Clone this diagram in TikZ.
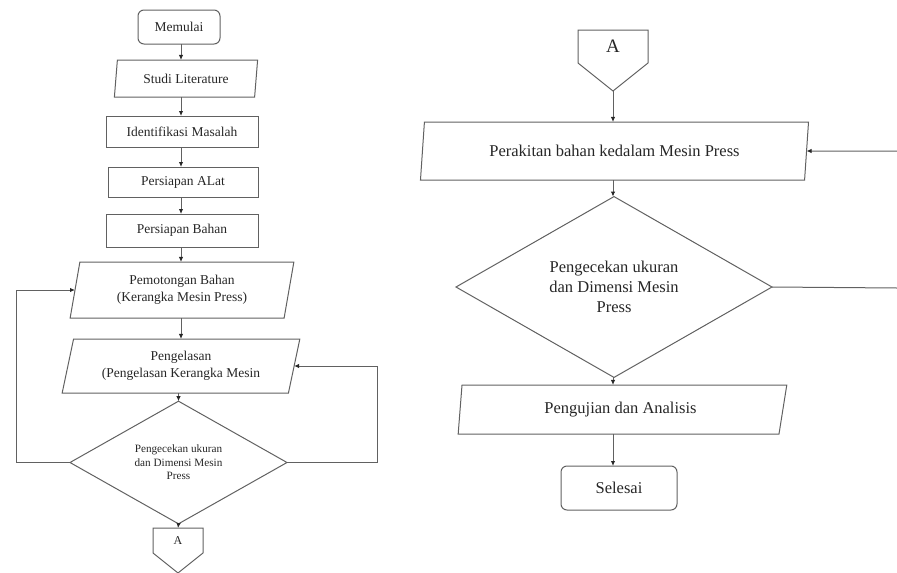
\documentclass[tikz,border=0pt]{standalone}
\usepackage{fontspec}
\setmainfont{Liberation Serif}
\usetikzlibrary{shapes.geometric,arrows.meta,calc}
\begin{document}
\begin{tikzpicture}[x=1pt,y=-1pt,
  line/.style={draw=black!62, line width=1pt},
  arr/.style={line, -{Latex[length=5pt,width=4.5pt,color=black!85]}},
  base/.style={line, inner sep=0pt, outer sep=0pt, align=center, text=black!85},
  fl/.style={font=\fontsize{13.5}{17}\selectfont},
  fr/.style={font=\fontsize{16.5}{20}\selectfont},
  boxL/.style={base, fl, rectangle},
  termbox/.style={base, rectangle, rounded corners=6pt},
  iobox/.style={base, trapezium, trapezium stretches=true},
  decbox/.style={base, diamond}
]
\useasboundingbox (0,0) rectangle (897,573);

% ---------- left column ----------
\coordinate (colL) at (181,0);
\node[termbox, fl, minimum width=82pt, minimum height=34pt] (start) at (179,27) {Memulai};
\node[iobox, fl, minimum width=144pt, minimum height=37pt, trapezium left angle=79, trapezium right angle=101] (studi) at (186,78.5) {Studi Literature};
\node[boxL, minimum width=152pt, minimum height=31pt] (ident) at (182,131.5) {Identifikasi Masalah};
\node[boxL, minimum width=150pt, minimum height=30pt] (alat) at (183,182) {Persiapan ALat};
\node[boxL, minimum width=152pt, minimum height=33pt] (bahan) at (182,230.5) {Persiapan Bahan};
\node[iobox, fl, minimum width=224pt, minimum height=56pt, trapezium left angle=78, trapezium right angle=102] (potong) at (182,290) {Pemotongan Bahan\\(Kerangka Mesin Press)};
\node[iobox, fl, minimum width=238pt, minimum height=54pt, trapezium left angle=74, trapezium right angle=106] (las) at (181,366) {Pengelasan\\(Pengelasan Kerangka Mesin};
\node[decbox, font=\fontsize{11.2}{13.5}\selectfont, minimum width=217pt, minimum height=101pt] (cekL) at (178.5,462.5) {Pengecekan ukuran\\dan Dimensi Mesin\\Press};
\node[base, draw=none, font=\fontsize{12}{14}\selectfont, minimum width=50pt, minimum height=25pt] (aL) at (178,540.5) {\raisebox{-2pt}{A}};
\draw[line] (aL.north west) -- (aL.north east) -- (aL.south east) -- ($(aL.south)+(0,20)$) -- (aL.south west) -- cycle;

\draw[arr] (start.south -| colL) -- (colL |- studi.north);
\draw[arr] (studi.south -| colL) -- (colL |- ident.north);
\draw[arr] (ident.south -| colL) -- (colL |- alat.north);
\draw[arr] (alat.south -| colL) -- (colL |- bahan.north);
\draw[arr] (bahan.south -| colL) -- (colL |- potong.north);
\draw[arr] (potong.south -| colL) -- (colL |- las.north);
\draw[arr] (las.south -| cekL.north) -- (cekL.north);
\draw[arr] (cekL.south) -- (aL.north);

\coordinate (loopL) at (16,0);
\coordinate (loopR) at (377,0);
\draw[arr] (cekL.west) -- (cekL.west -| loopL) -- (loopL |- potong.west) -- (potong.west);
\draw[arr] (cekL.east) -- (cekL.east -| loopR) -- (loopR |- las.east) -- (las.east);

% ---------- right column ----------
\coordinate (colR) at (613,0);
\node[base, draw=none, font=\fontsize{19}{22}\selectfont, minimum width=70pt, minimum height=33pt] (aR) at (613,46.5) {\raisebox{-6pt}{A}};
\coordinate (aRtip) at ($(aR.south)+(0,28)$);
\draw[line] (aR.north west) -- (aR.north east) -- (aR.south east) -- (aRtip) -- (aR.south west) -- cycle;
\node[iobox, fr, minimum width=389pt, minimum height=58pt, trapezium left angle=77.4, trapezium right angle=102.6] (rakit) at (614.5,151) {Perakitan bahan kedalam Mesin Press};
\node[decbox, fr, minimum width=316pt, minimum height=140pt] (cekR) at (614,287) {Pengecekan ukuran\\dan Dimensi Mesin\\Press};
\node[iobox, fr, minimum width=329pt, minimum height=49pt, trapezium left angle=83, trapezium right angle=104] (uji) at (620.5,409.5) {Pengujian dan Analisis};
\node[termbox, fr, minimum width=116pt, minimum height=44pt] (end) at (619,488) {Selesai};

\draw[arr] (aRtip) -- (colR |- rakit.north);
\draw[arr] (rakit.south -| colR) -- (colR |- cekR.north);
\draw[arr] (cekR.south -| colR) -- (colR |- uji.north);
\draw[arr] (uji.south -| colR) -- (colR |- end.north);

\coordinate (edgeA) at (897,151);
\coordinate (edgeB) at (897,288);
\draw[arr] (edgeA) -- (rakit.east);
\draw[line] (cekR.east) -- (edgeB);
\end{tikzpicture}
\end{document}
